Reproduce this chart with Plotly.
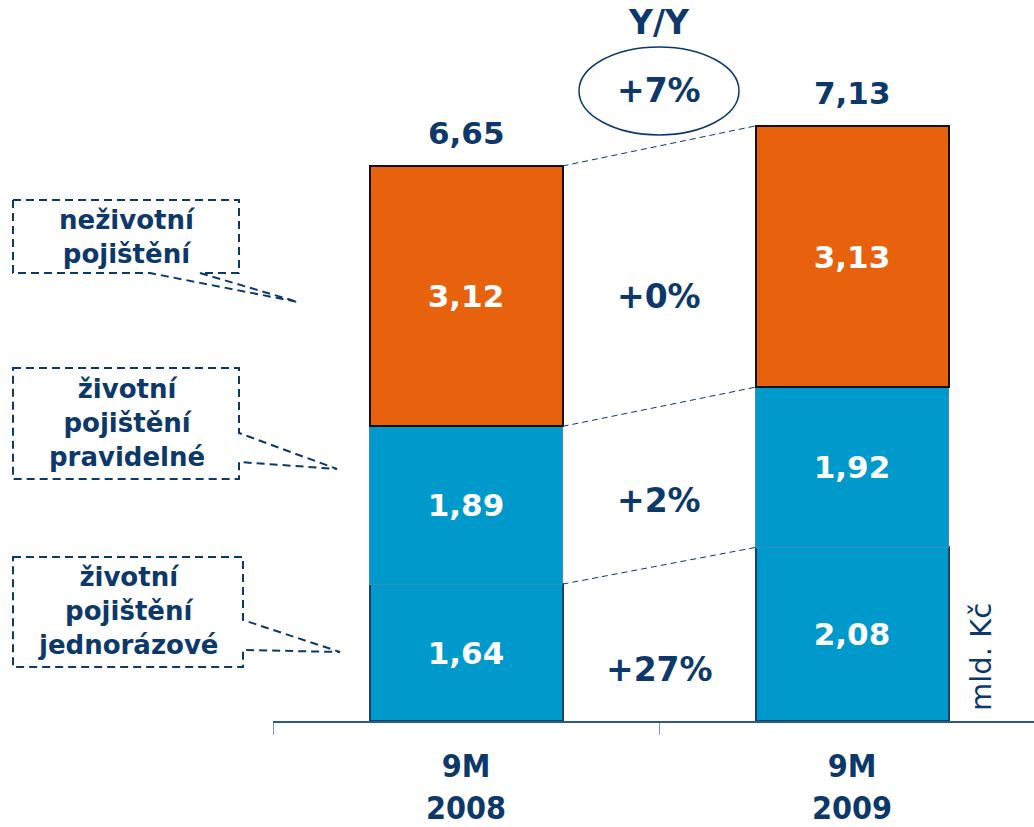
import plotly.graph_objects as go

# Written premiums, bn CZK
categories = ["9M<br>2008", "9M<br>2009"]
single_premium = [1.64, 2.08]      # životní pojištění jednorázové
regular_premium = [1.89, 1.92]     # životní pojištění pravidelné
non_life = [3.12, 3.13]            # neživotní pojištění
segment_names = ["neživotní<br>pojištění",
                 "životní<br>pojištění<br>pravidelné",
                 "životní<br>pojištění<br>jednorázové"]
unit_label = "mld. Kč"
yy_title = "Y/Y"

NAVY = "#0C386A"
BLUE = "#0099CC"
ORANGE = "#E8620E"
FONT = "DejaVu Sans"

totals = [a + b + c for a, b, c in zip(single_premium, regular_premium, non_life)]
level1 = single_premium
level2 = [a + b for a, b in zip(single_premium, regular_premium)]


def pct(new, old):
    return "+{:.0f}%".format((new / old - 1) * 100)


fig = go.Figure()
bar_text_font = dict(family=FONT, size=31, color="white", weight="bold")
for vals, color, line_color, line_w in [
    (single_premium, BLUE, "#163F6E", 2),
    (regular_premium, BLUE, "#3C8DBA", 1),
    (non_life, ORANGE, "#111111", 2),
]:
    fig.add_trace(go.Bar(
        x=categories, y=vals, width=0.5,
        marker=dict(color=color, line=dict(color=line_color, width=line_w)),
        texttemplate="%{y:.2f}", textposition="inside",
        insidetextanchor="middle", textangle=0, constraintext="none",
        textfont=bar_text_font, hoverinfo="skip",
    ))

# dashed connectors between the tops of matching segments
for lv in (level1, level2, totals):
    fig.add_shape(type="line", xref="x", yref="y",
                  x0=0.25, x1=0.75, y0=lv[0], y1=lv[1],
                  line=dict(color=NAVY, width=1, dash="6px,4px"))

# totals above the bars
for cat, tot in zip(categories, totals):
    fig.add_annotation(x=cat, y=tot, text="{:.2f}".format(tot).replace(".", ","),
                       showarrow=False, yanchor="middle", yshift=33,
                       font=dict(family=FONT, size=31, color=NAVY, weight="bold"))

# year-on-year changes between the bars
lab_font = dict(family=FONT, size=33, color=NAVY, weight="bold")
mid_top = level2[0] + non_life[0] / 2
mid_reg = level1[0] + regular_premium[0] / 2
mid_single = single_premium[0] / 2
fig.add_annotation(x=0.5, y=mid_top, text=pct(non_life[1], non_life[0]),
                   showarrow=False, font=lab_font)
fig.add_annotation(x=0.5, y=mid_reg, yshift=5,
                   text=pct(regular_premium[1], regular_premium[0]),
                   showarrow=False, font=lab_font)
fig.add_annotation(x=0.5, y=mid_single, yshift=-17,
                   text=pct(single_premium[1], single_premium[0]),
                   showarrow=False, font=lab_font)
fig.add_annotation(x=0.5, y=7.55, text=pct(totals[1], totals[0]),
                   showarrow=False, font=lab_font)
fig.add_annotation(x=0.5, y=8.375, text=yy_title, showarrow=False, font=lab_font)
fig.add_shape(type="circle", xref="x", yref="y",
              x0=0.5 - 80 / 386, x1=0.5 + 80 / 386,
              y0=7.55 - 44 / 83.46, y1=7.55 + 44 / 83.46,
              line=dict(color=NAVY, width=1.5))

# unit label
fig.add_annotation(xref="paper", x=(981 - 273) / 761, y=0.767, text=unit_label,
                   textangle=-90, showarrow=False, xanchor="center", yanchor="middle",
                   font=dict(family=FONT, size=29, color=NAVY))

# callout boxes on the left
L, PH = 273.0, 721.0


def px(x):
    return (x - L) / 761.0


def py(y):
    return (PH - y) / PH


def path(points):
    return "M " + " L ".join("{:.5f},{:.5f}".format(px(a), py(b)) for a, b in points) + " Z"


callouts = [
    [(13, 200), (239, 200), (239, 273), (200, 273), (298, 302), (150, 273), (13, 273)],
    [(13, 368), (239, 368), (239, 433), (337, 469), (239, 462), (239, 479), (13, 479)],
    [(13, 557), (243, 557), (243, 620), (340, 652), (243, 650), (243, 667), (13, 667)],
]
text_centers = [(127, 237), (127, 423), (128, 611)]
for pts, (cx, cy), txt in zip(callouts, text_centers, segment_names):
    fig.add_shape(type="path", xref="paper", yref="paper", path=path(pts),
                  line=dict(color=NAVY, width=2, dash="8px,5px"))
    fig.add_annotation(xref="paper", yref="paper", x=px(cx), y=py(cy), text=txt,
                       showarrow=False, align="center", xanchor="center", yanchor="middle",
                       font=dict(family=FONT, size=26, color=NAVY, weight="bold"))

fig.update_layout(
    width=1034, height=827, barmode="stack", showlegend=False,
    separators=", ", paper_bgcolor="white", plot_bgcolor="white",
    margin=dict(l=273, r=0, t=0, b=106, autoexpand=False),
    xaxis=dict(type="category", range=[-0.5, 1.4715], showline=True,
               linecolor="#2E5A88", linewidth=1.5, ticks="outside",
               tickson="boundaries", ticklen=12, tickcolor="#7F95B0",
               ticklabelstandoff=16, automargin=False,
               showgrid=False, zeroline=False,
               tickfont=dict(family="DejaVu Sans Condensed", size=32,
                             color=NAVY, weight="bold")),
    yaxis=dict(visible=False, range=[0, 8.639], automargin=False),
)

fig.write_html("out.html")
